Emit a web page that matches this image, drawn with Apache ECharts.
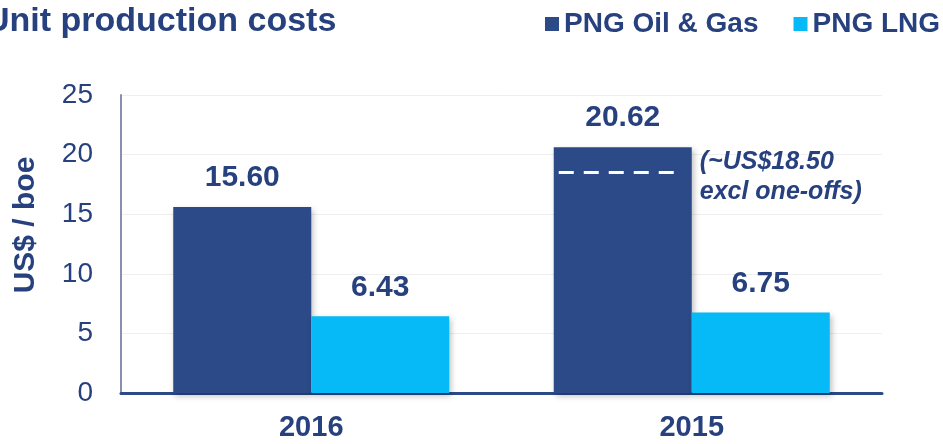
<!DOCTYPE html>
<html>
<head>
<meta charset="utf-8">
<script src="https://cdn.jsdelivr.net/npm/echarts@6/dist/echarts.min.js"></script>
<style>
    html, body { margin: 0; padding: 0; background: #fff; }
    #canvas { width: 943px; height: 444px; }
</style>
</head>
<body>
<div id="canvas"></div>
<script>
/**---------------------------------------------------------------------------------------------------------------------
 * Data
 *-------------------------------------------------------------------------------------------------------------------*/
let years = ['2016', '2015'];
let oilGasCosts = [15.60, 20.62];
let lngCosts = [6.43, 6.75];
let yTicks = [0, 5, 10, 15, 20, 25];
// one-off adjusted cost for 2015, shown as dashed line on the bar
let adjustedCost = [null, 18.50];
let adjustedNote = ['', '(~US$18.50\nexcl one-offs)'];

let navy = '#2B4A87';
let cyan = '#05BAF6';
let textColor = '#27417F';
let barWidth = 138;

let eChartInstance = echarts.init(document.getElementById('canvas'));

/**
 * Draw the dashed white line inside the navy bar plus its note
 */
function renderAdjusted(params, api) {
    let value = api.value(1);
    if (value == null || isNaN(value)) return;
    let pt = api.coord([api.value(0), value]);
    let x0 = pt[0] - barWidth + 5;
    let x1 = pt[0] - 8;
    return {
        type: 'group',
        children: [{
            type: 'line',
            shape: {x1: x0, y1: pt[1], x2: x1, y2: pt[1]},
            style: {stroke: '#fff', lineWidth: 3, lineDash: [15, 10]}
        }, {
            type: 'text',
            x: pt[0] + 8,
            y: pt[1] + 5,
            style: {
                text: adjustedNote[params.dataIndex],
                fill: textColor,
                font: 'italic bold 25px "Liberation Sans", Arial, sans-serif',
                lineHeight: 30,
                verticalAlign: 'middle',
                align: 'left'
            }
        }]
    };
}

let shadow = {
    shadowColor: 'rgba(0,0,0,0.25)',
    shadowBlur: 6,
    shadowOffsetX: 2,
    shadowOffsetY: 3
};

let valueLabel = {
    show: true,
    position: 'top',
    distance: 14,
    fontSize: 30,
    fontWeight: 'bold',
    color: textColor,
    formatter: p => p.value.toFixed(2)
};

let eChartsOption = {
    animation: false,
    textStyle: {fontFamily: '"Liberation Sans", Arial, sans-serif'},
    title: {
        text: 'Unit production costs',
        left: -20,
        top: 0,
        textStyle: {fontSize: 34, fontWeight: 'bold', color: textColor}
    },
    legend: {
        left: 540,
        top: 5,
        width: 500,
        orient: 'horizontal',
        itemWidth: 14,
        itemHeight: 14,
        itemGap: 35,
        icon: 'rect',
        textStyle: {fontSize: 28, fontWeight: 'bold', color: textColor},
        data: ['PNG Oil & Gas', 'PNG LNG']
    },
    grid: {left: 121, right: 61, top: 95, bottom: 51},
    xAxis: {
        type: 'category',
        data: years,
        axisTick: {show: false},
        axisLine: {lineStyle: {color: navy, width: 3}},
        axisLabel: {fontSize: 29, fontWeight: 'bold', color: textColor, margin: 20}
    },
    yAxis: {
        type: 'value',
        min: yTicks[0],
        max: yTicks[yTicks.length - 1],
        interval: yTicks[1] - yTicks[0],
        name: 'US$ / boe',
        nameLocation: 'middle',
        nameGap: 80,
        nameTextStyle: {fontSize: 30, fontWeight: 'bold', color: textColor, padding: [0, 0, 0, 38]},
        axisLine: {show: true, lineStyle: {color: '#8890AE', width: 2}},
        axisTick: {show: false},
        axisLabel: {fontSize: 28, color: textColor, margin: 28},
        splitLine: {lineStyle: {color: '#EFEFEF', width: 1}}
    },
    series: [{
        name: 'PNG Oil & Gas',
        type: 'bar',
        data: oilGasCosts,
        barWidth: barWidth,
        barGap: '0%',
        itemStyle: Object.assign({color: navy}, shadow),
        label: valueLabel
    }, {
        name: 'PNG LNG',
        type: 'bar',
        data: lngCosts,
        barWidth: barWidth,
        barGap: '0%',
        itemStyle: Object.assign({color: cyan}, shadow),
        label: valueLabel
    }, {
        type: 'custom',
        renderItem: renderAdjusted,
        data: years.map((y, i) => [i, adjustedCost[i]]),
        z: 5,
        silent: true
    }]
};

eChartInstance.setOption(eChartsOption);
</script>
</body>
</html>
